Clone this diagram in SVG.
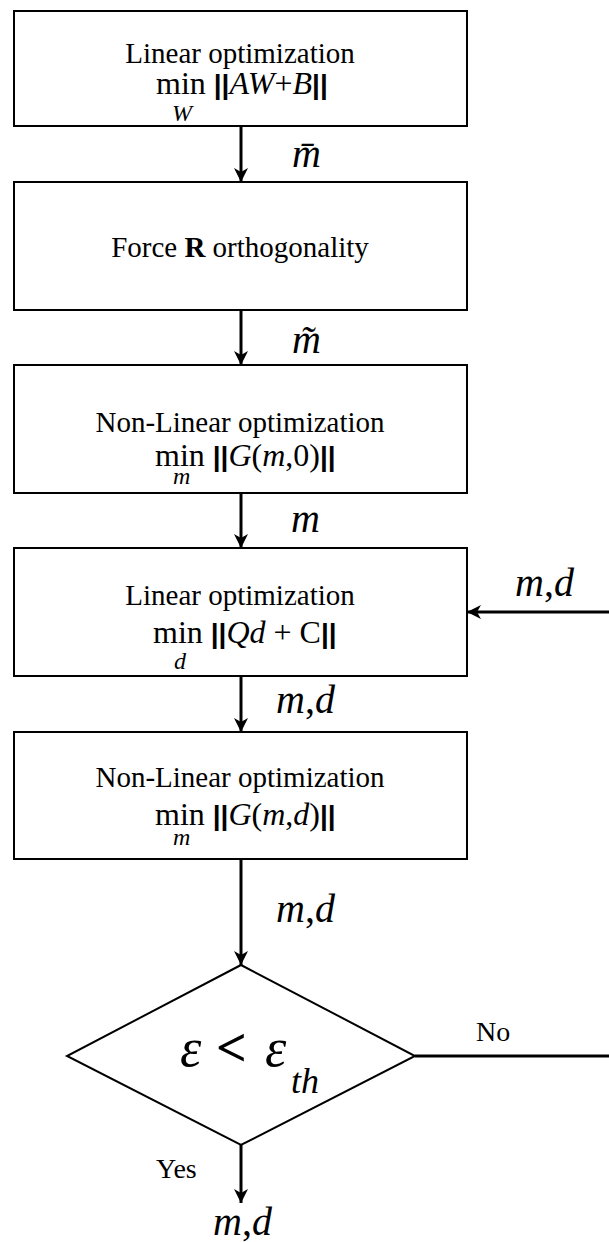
<svg xmlns="http://www.w3.org/2000/svg" width="609" height="1242" viewBox="0 0 609 1242">
<style>
.box{fill:#fff;stroke:#000;stroke-width:2}
.t{font-family:"Liberation Serif","Times New Roman",serif;font-size:29px;fill:#000}
.m{font-family:"Liberation Serif","Times New Roman",serif;font-size:32px;fill:#000}
.lab{font-family:"Liberation Serif","Times New Roman",serif;font-size:40px;font-style:italic;fill:#000}
.sub{font-family:"Liberation Serif","Times New Roman",serif;font-size:24px;font-style:italic;fill:#000}
.yn{font-family:"Liberation Serif","Times New Roman",serif;font-size:28px;fill:#000}
.eps{font-family:"Liberation Serif","Times New Roman",serif;font-size:54px;fill:#000}
.th{font-family:"Liberation Serif","Times New Roman",serif;font-size:36px;font-style:italic;fill:#000}
.i{font-style:italic}
.bar{font-family:"Liberation Sans",Arial,sans-serif;font-weight:bold;font-size:28px}
.ln{stroke:#000;stroke-width:3;fill:none}
</style>
<defs>
<marker id="ah" viewBox="0 0 14 14" refX="14" refY="7" markerWidth="14" markerHeight="14" markerUnits="userSpaceOnUse" orient="auto">
<path d="M0,0 L14,7 L0,14 L4,7 Z" fill="#000"/>
</marker>
</defs>
<g id="connectors">
<line class="ln" x1="241" y1="126" x2="241" y2="182" marker-end="url(#ah)"/>
<line class="ln" x1="241" y1="310" x2="241" y2="365" marker-end="url(#ah)"/>
<line class="ln" x1="241" y1="493" x2="241" y2="548" marker-end="url(#ah)"/>
<line class="ln" x1="609" y1="612" x2="467" y2="612" marker-end="url(#ah)"/>
<line class="ln" x1="241" y1="676" x2="241" y2="732" marker-end="url(#ah)"/>
<line class="ln" x1="241" y1="859" x2="241" y2="965" marker-end="url(#ah)"/>
<line class="ln" x1="415" y1="1056" x2="609" y2="1056"/>
<line class="ln" x1="241" y1="1145" x2="241" y2="1203" marker-end="url(#ah)"/>
<text class="lab" x="292" y="167">m̄</text>
<text class="lab" x="292" y="353">m̃</text>
<text class="lab" x="291" y="532">m</text>
<text class="lab" x="515" y="596">m<tspan font-style="normal">,</tspan>d</text>
<text class="lab" x="276" y="713">m<tspan font-style="normal">,</tspan>d</text>
<text class="lab" x="276" y="922">m<tspan font-style="normal">,</tspan>d</text>
<text class="yn" x="476" y="1041">No</text>
<text class="yn" x="156" y="1178">Yes</text>
<text class="lab" x="213" y="1235">m<tspan font-style="normal">,</tspan>d</text>
</g>
<g id="n1">
<rect class="box" x="14" y="11" width="453" height="115"/>
<text class="t" x="240" y="63" text-anchor="middle">Linear optimization</text>
<text class="m" x="156" y="94">min <tspan class="bar">||</tspan><tspan class="i">AW</tspan>+<tspan class="i">B</tspan><tspan class="bar">||</tspan></text>
<text class="sub" x="172" y="121">W</text>
</g>
<g id="n2">
<rect class="box" x="14" y="182" width="453" height="128"/>
<text class="t" x="240" y="257" text-anchor="middle">Force <tspan font-weight="bold">R</tspan> orthogonality</text>
</g>
<g id="n3">
<rect class="box" x="14" y="365" width="453" height="128"/>
<text class="t" x="240" y="432" text-anchor="middle">Non-Linear optimization</text>
<text class="m" x="155" y="466">min <tspan class="bar">||</tspan><tspan class="i">G</tspan>(<tspan class="i">m</tspan>,0)<tspan class="bar">||</tspan></text>
<text class="sub" x="173" y="484">m</text>
</g>
<g id="n4">
<rect class="box" x="14" y="548" width="453" height="128"/>
<text class="t" x="240" y="605" text-anchor="middle">Linear optimization</text>
<text class="m" x="153" y="643">min <tspan class="bar">||</tspan><tspan class="i">Qd</tspan> + C<tspan class="bar">||</tspan></text>
<text class="sub" x="174" y="669">d</text>
</g>
<g id="n5">
<rect class="box" x="14" y="732" width="453" height="127"/>
<text class="t" x="240" y="787" text-anchor="middle">Non-Linear optimization</text>
<text class="m" x="155" y="825">min <tspan class="bar">||</tspan><tspan class="i">G</tspan>(<tspan class="i">m</tspan>,<tspan class="i">d</tspan>)<tspan class="bar">||</tspan></text>
<text class="sub" x="173" y="845">m</text>
</g>
<g id="n6">
<polygon points="241,965 415,1056 241,1145 67,1056" fill="#fff" stroke="#000" stroke-width="2"/>
<text class="eps i" x="180" y="1066">ε</text>
<text class="eps" x="216" y="1066" font-weight="bold">&lt;</text>
<text class="eps i" x="265" y="1066">ε</text>
<text class="th" x="291" y="1093">th</text>
</g>
</svg>
